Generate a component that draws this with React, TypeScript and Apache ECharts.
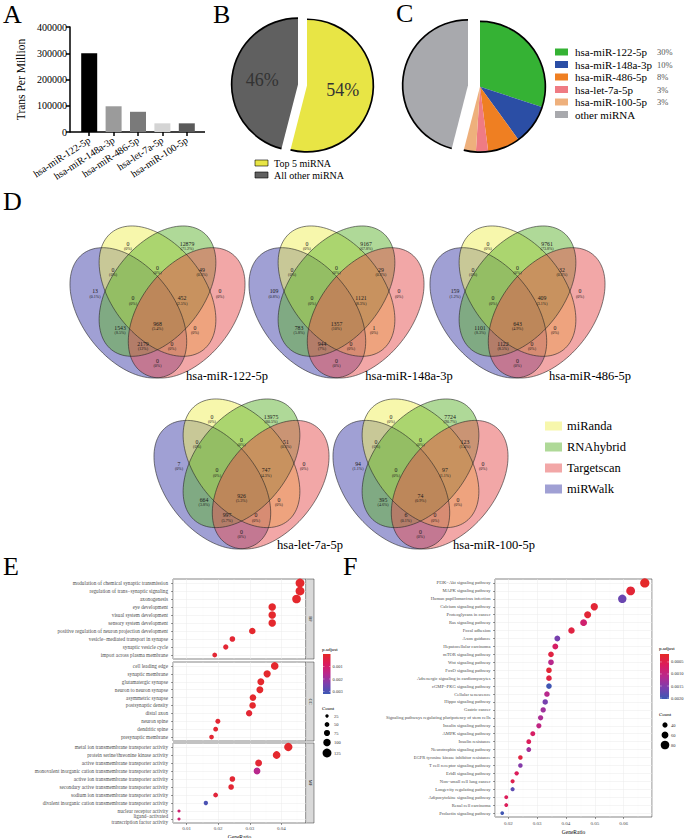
import React, { useEffect, useRef } from 'react';
import * as echarts from 'echarts';

const SERIF = "'Liberation Serif', 'Times New Roman', serif";

// ---------------- Panel A ----------------
const barCategories = ['hsa-miR-122-5p', 'hsa-miR-148a-3p', 'hsa-miR-486-5p', 'hsa-let-7a-5p', 'hsa-miR-100-5p'];
const barValues = [300000, 98000, 77000, 33000, 33000];
const barColors = ['#000000', '#9b9b9b', '#7a7a7a', '#d4d4d4', '#5a5a5a'];

// ---------------- Panel B ----------------
const pieBLabels = ['Top 5 miRNA', 'All other miRNA'];
const pieBValues = [54, 46];
const pieBColors = ['#e8e545', '#606060'];

// ---------------- Panel C ----------------
const pieCLabels = ['hsa-miR-122-5p', 'hsa-miR-148a-3p', 'hsa-miR-486-5p', 'hsa-let-7a-5p', 'hsa-miR-100-5p', 'other miRNA'];
const pieCValues = [30, 10, 8, 3, 3, 46];
const pieCPercent = ['30%', '10%', '8%', '3%', '3%', ''];
const pieCColors = ['#35b234', '#2b4ea5', '#ef7f22', '#ef7b83', '#eeb07c', '#a8a9ad'];

// ---------------- Panel D ----------------
const vennSets = ['miRanda', 'RNAhybrid', 'Targetscan', 'miRWalk'];
const vennSetColors = ['rgba(240,240,90,0.5)', 'rgba(95,180,50,0.5)', 'rgba(230,80,80,0.5)', 'rgba(65,65,170,0.5)'];
const vennNames = ['hsa-miR-122-5p', 'hsa-miR-148a-3p', 'hsa-miR-486-5p', 'hsa-let-7a-5p', 'hsa-miR-100-5p'];
// region order: Y, G, P(urple), K(pink), PY, YG, GK, PYG, YGK, all, PG, YK, PGK, PYK, PK
const venn122Counts = [0, 12879, 13, 0, 0, 0, 49, 0, 452, 968, 1543, 0, 2179, 0, 0];
const venn122Pct = ['0%', '71.2%', '0.1%', '0%', '0%', '0%', '0.3%', '0%', '2.5%', '5.4%', '8.5%', '0%', '12%', '0%', '0%'];
const venn148Counts = [0, 9167, 109, 0, 0, 0, 29, 0, 1121, 1357, 783, 1, 944, 0, 0];
const venn148Pct = ['0%', '67.8%', '0.8%', '0%', '0%', '0%', '0.2%', '0%', '8.3%', '10%', '5.8%', '0%', '7%', '0%', '0%'];
const venn486Counts = [0, 9761, 159, 0, 0, 0, 32, 0, 409, 643, 1101, 0, 1122, 0, 0];
const venn486Pct = ['0%', '73.8%', '1.2%', '0%', '0%', '0%', '0.2%', '0%', '3.1%', '4.9%', '8.3%', '0%', '8.5%', '0%', '0%'];
const venn7aCounts = [0, 13975, 7, 0, 0, 0, 51, 0, 747, 926, 664, 0, 997, 0, 0];
const venn7aPct = ['0%', '80.5%', '0%', '0%', '0%', '0%', '0.3%', '0%', '4.3%', '5.3%', '3.8%', '0%', '5.7%', '0%', '0%'];
const venn100Counts = [0, 7724, 94, 0, 0, 0, 123, 0, 97, 74, 395, 0, 6, 0, 0];
const venn100Pct = ['0%', '90.7%', '1.1%', '0%', '0%', '0%', '1.4%', '0%', '1.1%', '0.9%', '4.6%', '0%', '0.1%', '0%', '0%'];
const vennCounts = [venn122Counts, venn148Counts, venn486Counts, venn7aCounts, venn100Counts];
const vennPct = [venn122Pct, venn148Pct, venn486Pct, venn7aPct, venn100Pct];

// ---------------- Panel E ----------------
const bpTerms = ['modulation of chemical synaptic transmission', 'regulation of trans\u2212synaptic signaling', 'axonogenesis', 'eye development', 'visual system development', 'sensory system development', 'positive regulation of neuron projection development', 'vesicle\u2212mediated transport in synapse', 'synaptic vesicle cycle', 'import across plasma membrane'];
const bpRatio = [0.0459, 0.0459, 0.0448, 0.0371, 0.0371, 0.0371, 0.0308, 0.0245, 0.0224, 0.0189];
const bpCount = [124, 124, 121, 100, 100, 100, 83, 66, 60, 51];
const bpPadj = [0.0001, 0.0001, 0.0001, 0.0001, 0.0001, 0.0001, 0.0001, 0.0002, 0.0002, 0.0002];

const ccTerms = ['cell leading edge', 'synaptic membrane', 'glutamatergic synapse', 'neuron to neuron synapse', 'asymmetric synapse', 'postsynaptic density', 'distal axon', 'neuron spine', 'dendritic spine', 'presynaptic membrane'];
const ccRatio = [0.0379, 0.0355, 0.0335, 0.0332, 0.031, 0.0309, 0.0298, 0.0199, 0.0192, 0.0179];
const ccCount = [102, 96, 90, 90, 84, 83, 80, 54, 52, 48];
const ccPadj = [0.0001, 0.0001, 0.0001, 0.0001, 0.0001, 0.0001, 0.0002, 0.0002, 0.0002, 0.0002];

const mfTerms = ['metal ion transmembrane transporter activity', 'protein serine/threonine kinase activity', 'active transmembrane transporter activity', 'monovalent inorganic cation transmembrane transporter activity', 'active ion transmembrane transporter activity', 'secondary active transmembrane transporter activity', 'sodium ion transmembrane transporter activity', 'divalent inorganic cation transmembrane transporter activity', 'nuclear receptor activity', 'ligand\u2212activated\ntranscription factor activity'];
const mfRatio = [0.0422, 0.0385, 0.0328, 0.0323, 0.0245, 0.0241, 0.0192, 0.0161, 0.0076, 0.0076];
const mfCount = [114, 104, 89, 87, 66, 65, 52, 43, 21, 21];
const mfPadj = [0.0001, 0.0001, 0.0002, 0.0016, 0.0002, 0.0002, 0.0003, 0.003, 0.0011, 0.0011];

const eFacetLabels = ['BP', 'CC', 'MF'];
const ePadjTicks = [0.001, 0.002, 0.003];
const eCountTicks = [25, 50, 75, 100, 125];

// ---------------- Panel F ----------------
const keggTerms = ['PI3K\u2212Akt signaling pathway', 'MAPK signaling pathway', 'Human papillomavirus infection', 'Calcium signaling pathway', 'Proteoglycans in cancer', 'Ras signaling pathway', 'Focal adhesion', 'Axon guidance', 'Hepatocellular carcinoma', 'mTOR signaling pathway', 'Wnt signaling pathway', 'FoxO signaling pathway', 'Adrenergic signaling in cardiomyocytes', 'cGMP\u2212PKG signaling pathway', 'Cellular senescence', 'Hippo signaling pathway', 'Gastric cancer', 'Signaling pathways regulating pluripotency of stem cells', 'Insulin signaling pathway', 'AMPK signaling pathway', 'Insulin resistance', 'Neurotrophin signaling pathway', 'EGFR tyrosine kinase inhibitor resistance', 'T cell receptor signaling pathway', 'ErbB signaling pathway', 'Non\u2212small cell lung cancer', 'Longevity regulating pathway', 'Adipocytokine signaling pathway', 'Renal cell carcinoma', 'Prolactin signaling pathway'];
const keggRatio = [0.0673, 0.0624, 0.0595, 0.0498, 0.0475, 0.0461, 0.0419, 0.037, 0.0363, 0.0348, 0.0348, 0.0341, 0.0341, 0.0341, 0.0334, 0.0328, 0.0321, 0.0312, 0.0306, 0.0285, 0.0271, 0.0271, 0.0242, 0.0242, 0.0229, 0.0215, 0.0215, 0.0193, 0.0193, 0.0179];
const keggCount = [88, 82, 78, 65, 62, 60, 55, 48, 48, 46, 46, 45, 45, 45, 44, 43, 42, 41, 40, 37, 36, 36, 32, 32, 30, 28, 28, 25, 25, 23];
const keggPadj = [0.0002, 0.0003, 0.0017, 0.0003, 0.0003, 0.0008, 0.0004, 0.0016, 0.0007, 0.0004, 0.0011, 0.0003, 0.0004, 0.002, 0.0011, 0.0016, 0.0013, 0.0012, 0.001, 0.0007, 0.0006, 0.0013, 0.0004, 0.0015, 0.0006, 0.0005, 0.0018, 0.0006, 0.0006, 0.002];
const fPadjTicks = ['0.0005', '0.0010', '0.0015', '0.0020'];
const fCountTicks = [40, 60, 80];

// ---------------- layout / style constants ----------------
const PAL = ['#e52a26', '#db1c5e', '#b8288d', '#7b3fae', '#3b58b4'];
const E_PMIN = 0, E_PMAX = 0.0032;
const F_PMIN = 0.00017, F_PMAX = 0.00204;
const sizeE = (c: number) => 2 + c * 0.055;
const sizeF = (c: number) => 1.8 + c * 0.085;

const VENN_BOXES = [
  { left: 70, top: 226, w: 175, h: 152, lx: 227, ly: 376 },
  { left: 249, top: 226, w: 175, h: 152, lx: 409, ly: 376 },
  { left: 430, top: 226, w: 175, h: 152, lx: 590, ly: 376 },
  { left: 154, top: 399, w: 175, h: 150, lx: 310, ly: 545 },
  { left: 333, top: 399, w: 175, h: 150, lx: 494, ly: 545 },
];
const ELLIPSES = [
  { set: 3, cx: 0.35, cy: 0.53, ang: 45 },
  { set: 0, cx: 0.5, cy: 0.43, ang: 45 },
  { set: 1, cx: 0.5, cy: 0.43, ang: 135 },
  { set: 2, cx: 0.65, cy: 0.53, ang: 135 },
];
const VENN_POS = [[0.331, 0.118], [0.669, 0.118], [0.143, 0.43], [0.857, 0.43], [0.246, 0.287], [0.5, 0.274], [0.754, 0.287], [0.36, 0.475], [0.64, 0.475], [0.5, 0.645], [0.286, 0.67], [0.714, 0.67], [0.417, 0.775], [0.583, 0.775], [0.5, 0.885]];

const E_GRIDS = [
  { top: 579, height: 80 },
  { top: 662, height: 79 },
  { top: 743, height: 80 },
];
const E_LEFT = 173, E_WIDTH = 133;
const F_LEFT = 495, F_TOP = 579, F_WIDTH = 157, F_HEIGHT = 238;

function ellipsePoints(e: any, box: any) {
  const pts: number[][] = [];
  const a = 0.36, b = 0.225, t0 = (e.ang * Math.PI) / 180;
  for (let i = 0; i < 120; i++) {
    const t = (i / 120) * Math.PI * 2;
    const ux = e.cx + a * Math.cos(t) * Math.cos(t0) - b * Math.sin(t) * Math.sin(t0);
    const uy = e.cy + a * Math.cos(t) * Math.sin(t0) + b * Math.sin(t) * Math.cos(t0);
    pts.push([box.left + ((ux - 0.05) / 0.9) * box.w, box.top + ((uy - 0.13) / 0.7) * box.h]);
  }
  return pts;
}

function buildOption() {
  const graphics: any[] = [];
  const T = (text: string, x: number, y: number, size: number, o: any = {}) => {
    graphics.push({
      type: 'text', silent: true, x, y, rotation: o.rot || 0,
      style: {
        text, fontSize: size, fontFamily: SERIF, fontWeight: o.weight || 'normal', fill: o.fill || '#000',
        align: o.align || 'left', textAlign: o.align || 'left',
        verticalAlign: o.va || 'middle', textVerticalAlign: o.va || 'middle',
      },
    });
  };
  const R = (x: number, y: number, w: number, h: number, fill: any, stroke = 'none', lw = 0) => {
    graphics.push({ type: 'rect', silent: true, shape: { x, y, width: w, height: h }, style: { fill, stroke, lineWidth: lw } });
  };

  // panel letters
  T('A', 3, 1, 26, { va: 'top' });
  T('B', 213, 1, 26, { va: 'top' });
  T('C', 396, 0, 26, { va: 'top' });
  T('D', 3, 188, 26, { va: 'top' });
  T('E', 3, 553, 26, { va: 'top' });
  T('F', 343, 553, 26, { va: 'top' });

  // A x-axis line
  graphics.push({ type: 'line', silent: true, shape: { x1: 70, y1: 132, x2: 205, y2: 132 }, style: { stroke: '#000', lineWidth: 1.5 } });

  // B legend
  pieBLabels.forEach((lab, i) => {
    const y = 163 + i * 12;
    R(255, y - 3, 13, 6, pieBColors[i], '#000', 0.6);
    T(lab, 274, y, 10);
  });

  // C legend
  pieCLabels.forEach((lab, i) => {
    const y = 52 + i * 12.5;
    R(555, y - 3.5, 13, 7, pieCColors[i]);
    T(lab, 575, y, 11);
    if (pieCPercent[i]) T(pieCPercent[i], 657, y, 8.5, { fill: '#555' });
  });

  // Venn diagrams
  VENN_BOXES.forEach((box, k) => {
    const pts = ELLIPSES.map((e) => ellipsePoints(e, box));
    ELLIPSES.forEach((e, i) => {
      graphics.push({ type: 'polygon', silent: true, shape: { points: pts[i] }, style: { fill: vennSetColors[e.set], stroke: 'none' } });
    });
    ELLIPSES.forEach((e, i) => {
      graphics.push({ type: 'polygon', silent: true, shape: { points: pts[i] }, style: { fill: 'none', stroke: '#262626', lineWidth: 0.6 } });
    });
    vennCounts[k].forEach((v, r) => {
      const x = box.left + VENN_POS[r][0] * box.w;
      const y = box.top + VENN_POS[r][1] * box.h;
      T(String(v), x, y, 5.8, { align: 'center', fill: '#1a1a1a' });
      T('(' + vennPct[k][r] + ')', x, y + 4.8, 4, { align: 'center', fill: '#1a1a1a' });
    });
    T(vennNames[k], box.lx, box.ly, 12.5, { align: 'center' });
  });

  // D legend
  vennSets.forEach((s, i) => {
    const y = 426 + i * 21;
    R(545, y - 4.5, 17, 9, vennSetColors[i]);
    T(s, 567, y, 12.5);
  });

  // E facet strips
  E_GRIDS.forEach((g, i) => {
    R(E_LEFT + E_WIDTH, g.top, 8, g.height, '#d9d9d9', '#333333', 0.5);
    T(eFacetLabels[i], E_LEFT + E_WIDTH + 4, g.top + g.height / 2, 4.5, { align: 'center', rot: -Math.PI / 2, fill: '#1a1a1a' });
  });

  const grad = () => new echarts.graphic.LinearGradient(0, 0, 0, 1, PAL.map((c, i) => ({ offset: i / (PAL.length - 1), color: c })));

  // E colour bar
  const eBar = { x: 323, y: 654, w: 7.5, h: 40 };
  T('p.adjust', 322, 649, 5);
  R(eBar.x, eBar.y, eBar.w, eBar.h, grad());
  ePadjTicks.forEach((v) => {
    const y = eBar.y + ((v - E_PMIN) / (E_PMAX - E_PMIN)) * eBar.h;
    graphics.push({ type: 'line', silent: true, shape: { x1: eBar.x, y1: y, x2: eBar.x + 1.5, y2: y }, style: { stroke: '#fff', lineWidth: 0.4 } });
    graphics.push({ type: 'line', silent: true, shape: { x1: eBar.x + eBar.w - 1.5, y1: y, x2: eBar.x + eBar.w, y2: y }, style: { stroke: '#fff', lineWidth: 0.4 } });
    T(v.toFixed(3), eBar.x + eBar.w + 2, y, 4.5, { fill: '#333' });
  });
  // E count legend
  T('Count', 322, 708, 5);
  const eCountY = [716, 724.5, 733, 742.5, 753];
  eCountTicks.forEach((c, i) => {
    graphics.push({ type: 'circle', silent: true, shape: { cx: 327, cy: eCountY[i], r: sizeE(c) / 2 }, style: { fill: '#000' } });
    T(String(c), 334, eCountY[i], 4.5, { fill: '#333' });
  });

  // F colour bar
  const fBar = { x: 660, y: 654, w: 9, h: 45 };
  T('p.adjust', 659, 648, 5);
  R(fBar.x, fBar.y, fBar.w, fBar.h, grad());
  fPadjTicks.forEach((s) => {
    const v = parseFloat(s);
    const y = fBar.y + ((v - F_PMIN) / (F_PMAX - F_PMIN)) * fBar.h;
    graphics.push({ type: 'line', silent: true, shape: { x1: fBar.x, y1: y, x2: fBar.x + 1.8, y2: y }, style: { stroke: '#fff', lineWidth: 0.4 } });
    graphics.push({ type: 'line', silent: true, shape: { x1: fBar.x + fBar.w - 1.8, y1: y, x2: fBar.x + fBar.w, y2: y }, style: { stroke: '#fff', lineWidth: 0.4 } });
    T(s, fBar.x + fBar.w + 2, y, 4.5, { fill: '#333' });
  });
  T('Count', 659, 714, 5);
  const fCountY = [725, 735, 745];
  fCountTicks.forEach((c, i) => {
    graphics.push({ type: 'circle', silent: true, shape: { cx: 665, cy: fCountY[i], r: sizeF(c) / 2 }, style: { fill: '#000' } });
    T(String(c), 671, fCountY[i], 4.5, { fill: '#333' });
  });

  // ---------- pies ----------
  const transparent = { color: 'rgba(0,0,0,0)', borderWidth: 0 };
  const pieBase = (center: number[], radius: any, data: any[]) => ({
    type: 'pie', center, radius, startAngle: 90, clockwise: true, silent: true,
    avoidLabelOverlap: false, labelLine: { show: false }, emphasis: { disabled: true },
    label: { show: false }, itemStyle: { borderWidth: 0 }, data,
  });
  const insideLabel = { show: true, position: 'inside', formatter: '{d}%', fontSize: 18, fontFamily: SERIF, color: '#333' };
  const bYellowC = [307, 85.6], bGrayC = [298, 84.4];
  const pieB1 = pieBase(bYellowC, 66, [
    { value: pieBValues[0], name: pieBLabels[0], itemStyle: { color: pieBColors[0] }, label: insideLabel },
    { value: pieBValues[1], name: 'rest', itemStyle: transparent },
  ]);
  const pieB2 = pieBase(bGrayC, 66, [
    { value: pieBValues[0], name: 'rest', itemStyle: transparent },
    { value: pieBValues[1], name: pieBLabels[1], itemStyle: { color: pieBColors[1] }, label: insideLabel },
  ]);
  const pieB1r = pieBase(bYellowC, [65.5, 67.2], [
    { value: pieBValues[0], itemStyle: { color: '#000' } },
    { value: pieBValues[1], itemStyle: transparent },
  ]);
  const pieB2r = pieBase(bGrayC, [65.5, 67.2], [
    { value: pieBValues[0], itemStyle: transparent },
    { value: pieBValues[1], itemStyle: { color: '#000' } },
  ]);

  const cTop = pieCValues.slice(0, 5);
  const cTopSum = cTop.reduce((a, b) => a + b, 0);
  const cColC = [480, 86.8], cGrayC = [468, 85.2];
  const pieC1 = pieBase(cColC, 65, [
    ...cTop.map((v, i) => ({ value: v, name: pieCLabels[i], itemStyle: { color: pieCColors[i] } })),
    { value: pieCValues[5], name: 'rest', itemStyle: transparent },
  ]);
  const pieC2 = pieBase(cGrayC, 65, [
    { value: cTopSum, name: 'rest', itemStyle: transparent },
    { value: pieCValues[5], name: pieCLabels[5], itemStyle: { color: pieCColors[5] } },
  ]);
  const pieC1r = pieBase(cColC, [64.5, 66.2], [
    { value: cTopSum, itemStyle: { color: '#000' } },
    { value: pieCValues[5], itemStyle: transparent },
  ]);
  const pieC2r = pieBase(cGrayC, [64.5, 66.2], [
    { value: cTopSum, itemStyle: transparent },
    { value: pieCValues[5], itemStyle: { color: '#000' } },
  ]);

  // ---------- dot plots ----------
  const eSets = [
    { terms: bpTerms, ratio: bpRatio, count: bpCount, padj: bpPadj },
    { terms: ccTerms, ratio: ccRatio, count: ccCount, padj: ccPadj },
    { terms: mfTerms, ratio: mfRatio, count: mfCount, padj: mfPadj },
  ];
  const gridLine = { color: '#ebebeb', width: 0.5, type: 'solid' };
  const markRows = (n: number) => ({
    silent: true, symbol: ['none', 'none'], z: 1, animation: false,
    label: { show: false }, emphasis: { disabled: true }, lineStyle: gridLine,
    data: Array.from({ length: n }, (_, i) => ({ yAxis: i })),
  });
  const valueX = (gridIndex: number, min: number, max: number, showLabels: boolean, nameGap: number, margin: number) => ({
    type: 'value', gridIndex, min, max, splitNumber: 5,
    axisLine: { show: false },
    axisTick: { show: showLabels, length: 2, lineStyle: { color: '#333', width: 0.5 } },
    axisLabel: { show: showLabels, fontSize: 5, fontFamily: SERIF, color: '#4d4d4d', margin, showMinLabel: false, showMaxLabel: false, formatter: (v: number) => String(Number(v.toFixed(3))) },
    splitLine: { show: true, lineStyle: gridLine },
    minorTick: { show: false, splitNumber: 2 },
    minorSplitLine: { show: true, lineStyle: { color: '#f4f4f4', width: 0.3 } },
    name: showLabels ? 'GeneRatio' : '', nameLocation: 'middle', nameGap,
    nameTextStyle: { fontSize: 5.5, fontFamily: SERIF, color: '#000' },
  });
  const catY = (gridIndex: number, data: string[], fontSize: number, margin: number) => ({
    type: 'category', gridIndex, data, inverse: true,
    axisLine: { show: false },
    axisTick: { show: true, length: 2, alignWithLabel: true, lineStyle: { color: '#333', width: 0.5 } },
    axisLabel: { fontSize, fontFamily: SERIF, color: '#4d4d4d', interval: 0, margin, lineHeight: 5.4 },
    splitLine: { show: false },
  });
  const panelGrid = (left: number, top: number, width: number, height: number) => ({
    left, top, width, height, show: true, backgroundColor: '#fff', borderColor: '#333', borderWidth: 0.6, containLabel: false, outerBoundsMode: 'none',
  });

  const grids = [
    { left: 77, top: 27, width: 122, height: 105, containLabel: false, outerBoundsMode: 'none' },
    ...E_GRIDS.map((g) => panelGrid(E_LEFT, g.top, E_WIDTH, g.height)),
    panelGrid(F_LEFT, F_TOP, F_WIDTH, F_HEIGHT),
  ];

  const xAxes: any[] = [
    {
      type: 'category', gridIndex: 0, data: barCategories,
      axisLine: { show: false },
      axisTick: { show: true, alignWithLabel: true, length: 4, lineStyle: { color: '#000', width: 1.5 } },
      axisLabel: { rotate: 33, fontSize: 10, fontFamily: SERIF, color: '#000', interval: 0, margin: 7 },
    },
    valueX(1, 0.0057, 0.0478, false, 11, 2.5),
    valueX(2, 0.0057, 0.0478, false, 11, 2.5),
    valueX(3, 0.0057, 0.0478, true, 10.5, 2.5),
    valueX(4, 0.0154, 0.0698, true, 12, 3.5),
  ];
  const yAxes: any[] = [
    {
      type: 'value', gridIndex: 0, min: 0, max: 400000, interval: 100000, offset: 7,
      axisLine: { show: true, lineStyle: { color: '#000', width: 1.5 } },
      axisTick: { show: true, length: 4, lineStyle: { color: '#000', width: 1.5 } },
      axisLabel: { fontSize: 10, fontFamily: SERIF, color: '#000', margin: 3, formatter: (v: number) => String(v) },
      splitLine: { show: false },
      name: 'Trans Per Million', nameLocation: 'middle', nameGap: 43,
      nameTextStyle: { fontSize: 11.5, fontFamily: SERIF, color: '#000' },
    },
    catY(1, bpTerms, 5.2, 5),
    catY(2, ccTerms, 5.2, 5),
    catY(3, mfTerms, 5.2, 5),
    catY(4, keggTerms, 4.6, 4.5),
  ];

  const eSeries = eSets.map((s, i) => ({
    type: 'scatter', xAxisIndex: i + 1, yAxisIndex: i + 1, silent: true,
    itemStyle: { opacity: 1 },
    data: s.ratio.map((r, j) => [r, j, s.padj[j], s.count[j]]),
    symbolSize: (v: number[]) => sizeE(v[3]),
    markLine: markRows(s.terms.length),
  }));
  const fSeries = {
    type: 'scatter', xAxisIndex: 4, yAxisIndex: 4, silent: true,
    itemStyle: { opacity: 1 },
    data: keggRatio.map((r, j) => [r, j, keggPadj[j], keggCount[j]]),
    symbolSize: (v: number[]) => sizeF(v[3]),
    markLine: markRows(keggTerms.length),
  };

  const series: any[] = [
    {
      type: 'bar', xAxisIndex: 0, yAxisIndex: 0, barWidth: 16, silent: true,
      data: barValues.map((v, i) => ({ value: v, itemStyle: { color: barColors[i] } })),
    },
    pieB1, pieB2, pieB1r, pieB2r,
    pieC1, pieC2, pieC1r, pieC2r,
    ...eSeries,
    fSeries,
  ];

  return {
    animation: false,
    backgroundColor: '#ffffff',
    textStyle: { fontFamily: SERIF },
    grid: grids,
    xAxis: xAxes,
    yAxis: yAxes,
    visualMap: [
      { type: 'continuous', show: false, seriesIndex: [9, 10, 11], dimension: 2, min: E_PMIN, max: E_PMAX, inRange: { color: PAL, opacity: 1 } },
      { type: 'continuous', show: false, seriesIndex: [12], dimension: 2, min: F_PMIN, max: F_PMAX, inRange: { color: PAL, opacity: 1 } },
    ],
    series,
    graphic: { elements: graphics },
  };
}

export default function App() {
  const ref = useRef<HTMLDivElement>(null);
  useEffect(() => {
    if (!ref.current) return;
    const chart = echarts.init(ref.current, null, { renderer: 'svg' });
    chart.setOption(buildOption() as any);
    return () => chart.dispose();
  }, []);
  return <div ref={ref} style={{ position: 'absolute', left: 0, top: 0, width: 685, height: 838, background: '#fff' }} />;
}
